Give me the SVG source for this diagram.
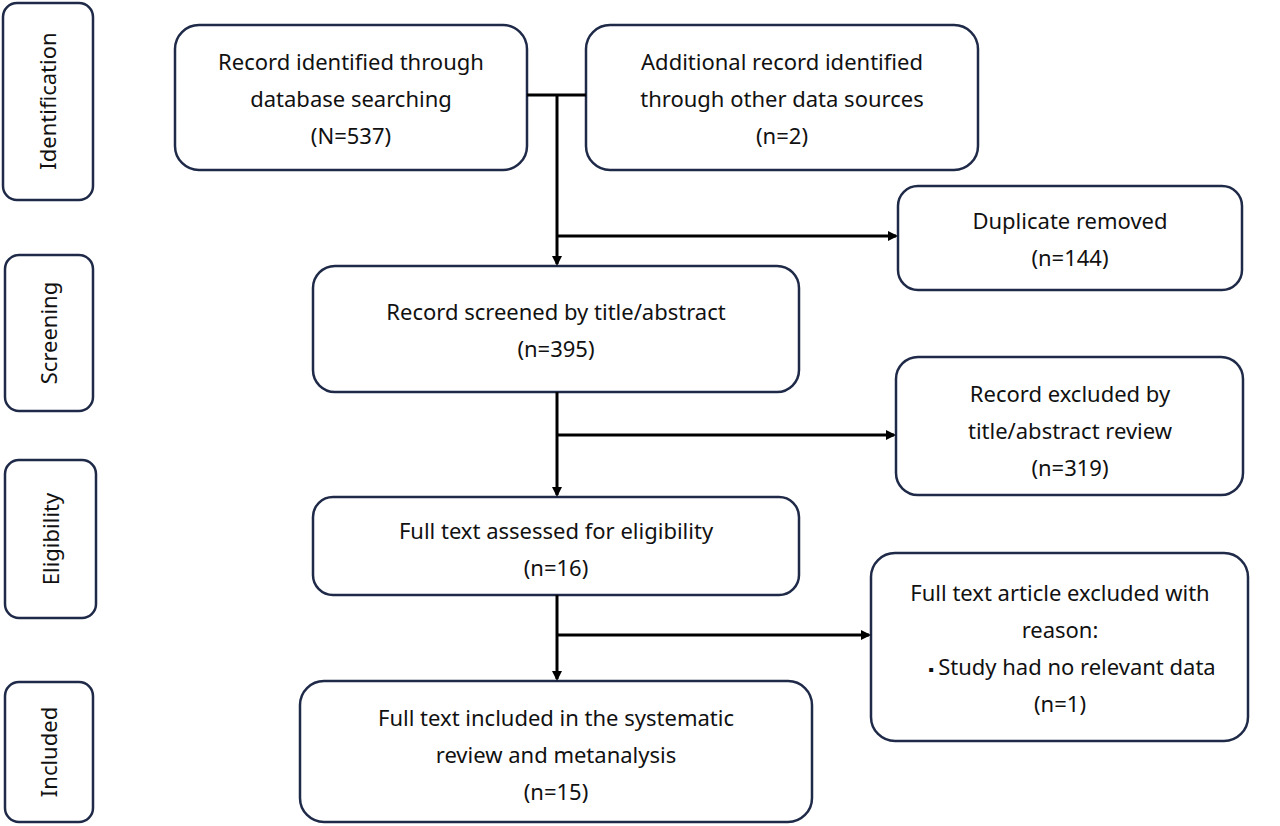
<svg xmlns="http://www.w3.org/2000/svg" width="1280" height="826" viewBox="0 0 1280 826">
<style>
.b{fill:#fff;stroke:#1f2a48;stroke-width:2.5}
text{font-family:"Noto Sans","Open Sans",sans-serif;font-size:22px;fill:#111;text-anchor:middle}
.c{stroke:#000;stroke-width:3;fill:none}
</style>
<defs><marker id="a" markerWidth="10" markerHeight="10" refX="8" refY="5" orient="auto" markerUnits="userSpaceOnUse" viewBox="0 0 10 10"><path d="M0,0L10,5L0,10z" fill="#000"/></marker></defs>
<rect width="1280" height="826" fill="#fff"/>
<g id="side-identification"><rect class="b" x="3" y="3" width="90" height="197" rx="14"/><text transform="translate(56,101) rotate(-90)">Identification</text></g>
<g id="side-screening"><rect class="b" x="5" y="255" width="88" height="156" rx="14"/><text transform="translate(57,333) rotate(-90)">Screening</text></g>
<g id="side-eligibility"><rect class="b" x="5" y="460" width="91" height="158" rx="14"/><text transform="translate(59,539) rotate(-90)">Eligibility</text></g>
<g id="side-included"><rect class="b" x="5" y="682" width="88" height="140" rx="14"/><text transform="translate(57,752) rotate(-90)">Included</text></g>
<g id="n1"><rect class="b" x="175" y="25" width="352" height="145" rx="24"/><text x="351" y="70">Record identified through</text><text x="351" y="107">database searching</text><text x="351" y="144">(N=537)</text></g>
<g id="n2"><rect class="b" x="586" y="25" width="392" height="145" rx="24"/><text x="782" y="70">Additional record identified</text><text x="782" y="107">through other data sources</text><text x="782" y="144">(n=2)</text></g>
<g id="n3"><rect class="b" x="898" y="186" width="344" height="104" rx="20"/><text x="1070" y="229">Duplicate removed</text><text x="1070" y="266">(n=144)</text></g>
<g id="n4"><rect class="b" x="313" y="266" width="486" height="126" rx="22"/><text x="556" y="320">Record screened by title/abstract</text><text x="556" y="357">(n=395)</text></g>
<g id="n5"><rect class="b" x="896" y="357" width="347" height="138" rx="22"/><text x="1070" y="402">Record excluded by</text><text x="1070" y="439">title/abstract review</text><text x="1070" y="476">(n=319)</text></g>
<g id="n6"><rect class="b" x="313" y="497" width="486" height="98" rx="20"/><text x="556" y="539">Full text assessed for eligibility</text><text x="556" y="576">(n=16)</text></g>
<g id="n7"><rect class="b" x="871" y="553" width="377" height="188" rx="24"/><text x="1060" y="601">Full text article excluded with</text><text x="1060" y="638">reason:</text><text x="1072" y="675"><tspan font-size="16">▪ </tspan>Study had no relevant data</text><text x="1060" y="712">(n=1)</text></g>
<g id="n8"><rect class="b" x="300" y="681" width="512" height="141" rx="24"/><text x="556" y="726">Full text included in the systematic</text><text x="556" y="763">review and metanalysis</text><text x="556" y="800">(n=15)</text></g>
<g id="connectors">
<path class="c" d="M527,95H586"/>
<path class="c" d="M557,95V264" marker-end="url(#a)"/>
<path class="c" d="M557,236H896" marker-end="url(#a)"/>
<path class="c" d="M557,392V495" marker-end="url(#a)"/>
<path class="c" d="M557,435H894" marker-end="url(#a)"/>
<path class="c" d="M557,595V679" marker-end="url(#a)"/>
<path class="c" d="M557,635H869" marker-end="url(#a)"/>
</g>
</svg>
